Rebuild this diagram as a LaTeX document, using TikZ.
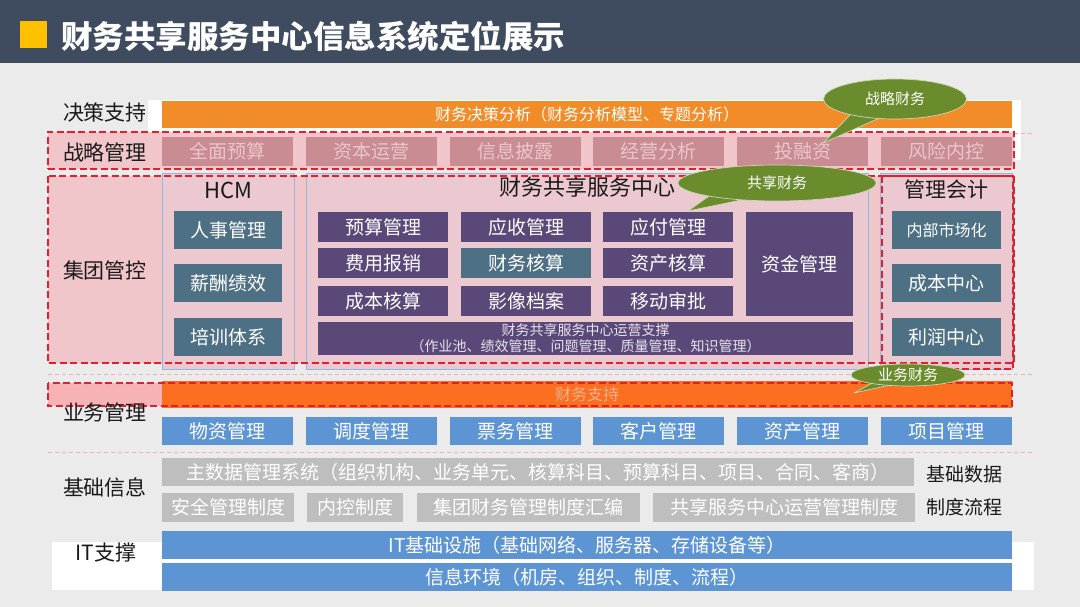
\documentclass[tikz,border=0pt]{standalone}
\usepackage{fontspec}
\setmainfont{Noto Sans CJK SC}
\usepackage{tikz}
\usetikzlibrary{shapes.geometric}
\definecolor{TitleSlate}{HTML}{3F4B5F}
\definecolor{TitleGold}{HTML}{FFC000}
\definecolor{PageGrey}{HTML}{EBEBEB}
\definecolor{DecisionOrange}{HTML}{F28C28}
\definecolor{SupportOrange}{HTML}{FC6E20}
\definecolor{SupportText}{HTML}{F8B38E}
\definecolor{ZonePink}{HTML}{F1C6CB}
\definecolor{FramePink}{HTML}{ECC8D0}
\definecolor{FrameBlue}{HTML}{8DBAD9}
\definecolor{StratRose}{HTML}{C98C93}
\definecolor{StratText}{HTML}{EBC6C9}
\definecolor{DashRed}{HTML}{E0202E}
\definecolor{SepPink}{HTML}{EDB0B8}
\definecolor{FsscPurple}{HTML}{5A4879}
\definecolor{HcmTeal}{HTML}{4E7085}
\definecolor{BizBlue}{HTML}{5D95D4}
\definecolor{BaseGrey}{HTML}{BEBEBE}
\definecolor{BubbleGreen}{HTML}{6A8C2C}
\definecolor{LabelInk}{HTML}{1A1A1A}

\begin{document}
\begin{tikzpicture}[
  x=1pt,
  y=-1pt,
  font=\fontsize{19}{22}\selectfont,
  box/.style={inner sep=0pt, align=center, text=white},
  rowlabel/.style={box, text=LabelInk, font=\fontsize{21}{24}\selectfont},
  sidelabel/.style={box, text=LabelInk, font=\fontsize{19}{22}\selectfont},
  decisionbar/.style={box, fill=DecisionOrange, minimum width=850, minimum height=27, font=\fontsize{16}{18}\selectfont},
  supportbar/.style={box, fill=SupportOrange, text=SupportText, minimum width=850, minimum height=27, font=\fontsize{16}{18}\selectfont},
  zone/.style={fill=ZonePink, minimum width=966, inner sep=0pt},
  zonedash/.style={draw=DashRed, line width=1.5pt, dash pattern=on 7pt off 3.5pt},
  sepline/.style={draw=SepPink, line width=0.8pt, dash pattern=on 4pt off 3pt},
  frame/.style={draw=FrameBlue, fill=FramePink, line width=1pt, minimum width=132, minimum height=195, inner sep=0pt},
  stratbox/.style={box, fill=StratRose, text=StratText, minimum width=131, minimum height=29},
  tealbox/.style={box, fill=HcmTeal, minimum width=108, minimum height=38},
  fsscbox/.style={box, fill=FsscPurple, minimum width=130, minimum height=30},
  bizbox/.style={box, fill=BizBlue, minimum width=131, minimum height=28},
  basebox/.style={box, fill=BaseGrey, minimum height=29},
  itbar/.style={box, fill=BizBlue, minimum width=850, minimum height=28},
  bubble/.style={ellipse, fill=BubbleGreen, draw=BubbleGreen!35!white, line width=0.7pt, text=white, inner sep=0pt, font=\fontsize{15}{17}\selectfont},
  tail/.style={fill=BubbleGreen, draw=BubbleGreen!35!white, line width=0.7pt, line join=round}
]
\useasboundingbox (0,0) rectangle (1080,607);
\fill[PageGrey] (0,0) rectangle (1080,607);
\node[box, fill=TitleSlate, minimum width=1080, minimum height=63] (titlebar) at (540,31.5) {};
\node[box, fill=TitleGold, minimum size=27] (titlemark) at (33,35) {};
\node[box, anchor=west, font=\fontsize{31.5}{34}\selectfont\bfseries] (title) at (61,36) {财务共享服务中心信息系统定位展示};

\fill[white] (148,100) rectangle (1021,160);
\fill[white] (52,542) rectangle (1034,590);

\node[rowlabel] (decisionlabel) at (105,113) {决策支持};
\node[decisionbar] (decision) at (587,114.5) {财务决策分析（财务分析模型、专题分析）};

\draw[sepline] (1014,133) -- (1035,133);
\node[zone, zonedash, minimum height=37] (stratzone) at (531,150.5) {};
\node[rowlabel] (stratlabel) at (105,152) {战略管理};
\node[stratbox] (budget) at (227.5,151.5) {全面预算};
\node[stratbox] (capital) at (371.5,151.5) {资本运营};
\node[stratbox] (disclose) at (515.5,151.5) {信息披露};
\node[stratbox] (operate) at (658.5,151.5) {经营分析};
\node[stratbox] (invest) at (802.5,151.5) {投融资};
\node[stratbox] (risk) at (946,151.5) {风险内控};

\node[zone, minimum height=187] (groupzone) at (531,269.5) {};
\node[rowlabel] (grouplabel) at (105,270) {集团管控};
\node[frame] (hcmframe) at (228,271.5) {};
\node[frame, minimum width=562] (fsscframe) at (587,271.5) {};
\node[frame] (maframe) at (946,271.5) {};
\node[box, text=LabelInk, font=\fontsize{22}{24}\selectfont] (hcmtitle) at (228,190) {HCM};
\node[box, text=LabelInk, font=\fontsize{22}{24}\selectfont] (fssctitle) at (587,187) {财务共享服务中心};
\node[box, text=LabelInk, font=\fontsize{21}{24}\selectfont] (matitle) at (946,189) {管理会计};

\node[tealbox] (personnel) at (228,230) {人事管理};
\node[tealbox] (salary) at (228,283) {薪酬绩效};
\node[tealbox] (training) at (228,337) {培训体系};

\node[fsscbox] (budgetmgmt) at (383,227) {预算管理};
\node[fsscbox] (receivable) at (526,227) {应收管理};
\node[fsscbox] (payable) at (668,227) {应付管理};
\node[fsscbox] (expense) at (383,263) {费用报销};
\node[fsscbox, fill=HcmTeal] (accounting) at (526,263) {财务核算};
\node[fsscbox] (asset) at (668,263) {资产核算};
\node[fsscbox] (cost) at (383,301) {成本核算};
\node[fsscbox] (image) at (526,301) {影像档案};
\node[fsscbox] (approval) at (668,301) {移动审批};
\node[fsscbox, minimum width=107, minimum height=104] (fund) at (799.5,264) {资金管理};
\node[fsscbox, minimum width=535, minimum height=33, text=white!85!FsscPurple, font=\fontsize{14}{16}\selectfont] (opsupport) at (585.5,338.5) {财务共享服务中心运营支撑\\（作业池、绩效管理、问题管理、质量管理、知识管理）};

\node[tealbox, minimum width=109, font=\fontsize{16}{18}\selectfont] (market) at (946.5,230) {内部市场化};
\node[tealbox, minimum width=109] (costcenter) at (946.5,283) {成本中心};
\node[tealbox, minimum width=109] (profit) at (946.5,337) {利润中心};

\draw[zonedash] (groupzone.north west) rectangle (groupzone.south east);
\draw[zonedash] (882,176) rectangle (1013,369);

\coordinate (sharedtip) at (688,211);
\path[tail] (712,194) -- (sharedtip) -- (746,199) -- cycle
  node[bubble, minimum width=198, minimum height=36] (sharedbubble) at (777,183) {共享财务};

\coordinate (strattip) at (823,143);
\path[tail] (852,113) -- (strattip) -- (884,116) -- cycle
  node[bubble, minimum width=143, minimum height=40] (stratbubble) at (895,99) {战略财务};

\draw[sepline] (48,374) -- (1035,374);
\node[zone, fill=ZonePink!80!red!80!white, minimum width=964, minimum height=23] (bizzone) at (530,394.5) {};
\node[supportbar] (finsupport) at (587,394.5) {财务支持};
\draw[zonedash] (bizzone.north west) rectangle (bizzone.south east);
\node[rowlabel] (bizlabel) at (105,412) {业务管理};

\coordinate (biztip) at (854,393);
\path[tail] (876,381) -- (biztip) -- (895,384) -- cycle
  node[bubble, minimum width=114, minimum height=22] (bizbubble) at (908,375) {业务财务};

\node[bizbox] (material) at (227.5,431) {物资管理};
\node[bizbox] (dispatch) at (371.5,431) {调度管理};
\node[bizbox] (ticket) at (515.5,431) {票务管理};
\node[bizbox] (customer) at (658.5,431) {客户管理};
\node[bizbox] (assetmgmt) at (802.5,431) {资产管理};
\node[bizbox] (project) at (946,431) {项目管理};

\draw[sepline] (48,452) -- (1035,452);
\node[rowlabel] (baselabel) at (105,487) {基础信息};
\node[basebox, minimum width=752, minimum height=28] (masterdata) at (538,472) {主数据管理系统（组织机构、业务单元、核算科目、预算科目、项目、合同、客商）};
\node[basebox, minimum width=132] (safety) at (228,507.5) {安全管理制度};
\node[basebox, minimum width=96] (control) at (355,507.5) {内控制度};
\node[basebox, minimum width=223] (compile) at (528.5,507.5) {集团财务管理制度汇编};
\node[basebox, minimum width=262] (sscrule) at (784,507.5) {共享服务中心运营管理制度};
\node[sidelabel] (basedata) at (964,474) {基础数据};
\node[sidelabel] (process) at (964,507) {制度流程};

\node[rowlabel] (itlabel) at (106,553) {IT支撑};
\node[itbar] (infra) at (587,545) {IT基础设施（基础网络、服务器、存储设备等）};
\node[itbar] (environment) at (587,577) {信息环境（机房、组织、制度、流程）};
\end{tikzpicture}
\end{document}
